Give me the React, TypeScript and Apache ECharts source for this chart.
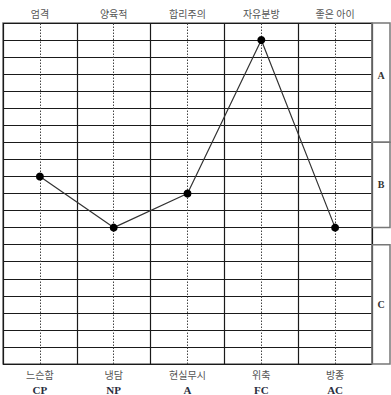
import React, { useEffect, useRef } from "react";
import * as echarts from "echarts";

const topLabels = ["엄격", "양육적", "합리주의", "자유분방", "좋은 아이"];
const bottomLabels = ["느슨함", "냉담", "현실무시", "위축", "방종"];
const codes = ["CP", "NP", "A", "FC", "AC"];
const values = [11, 8, 10, 19, 8];
const zones = [
  { name: "A", from: 13, to: 20 },
  { name: "B", from: 8, to: 13 },
  { name: "C", from: 0, to: 7 },
];

export default function App() {
  const ref = useRef<HTMLDivElement>(null);
  useEffect(() => {
    document.body.style.margin = "0";
    const chart = echarts.init(ref.current!, null, { renderer: "svg" });
    const ko = "'Noto Sans CJK KR', sans-serif";
    chart.setOption({
      animation: false,
      backgroundColor: "#fff",
      grid: [
        { left: 3, top: 23, width: 369, height: 341, show: true, borderColor: "#777", borderWidth: 1.5 },
        { left: 372, top: 23, width: 18, height: 341, show: false },
      ],
      xAxis: [
        {
          type: "category",
          gridIndex: 0,
          position: "bottom",
          data: bottomLabels,
          boundaryGap: true,
          axisLine: { show: false },
          axisTick: { show: false },
          splitLine: { show: true, interval: 0, lineStyle: { color: "#1a1a1a", width: 1.2 } },
          axisLabel: {
            interval: 0,
            margin: 3,
            formatter: (v: string, i: number) => `{ko|${v}}\n{en|${codes[i]}}`,
            rich: {
              ko: { fontFamily: ko, fontSize: 10, color: "#555", lineHeight: 15 },
              en: { fontFamily: "'Liberation Serif', 'DejaVu Serif', serif", fontSize: 11, fontWeight: "bold", color: "#2a2d40", lineHeight: 15 },
            },
          },
        },
        {
          type: "category",
          gridIndex: 0,
          position: "top",
          data: topLabels,
          boundaryGap: true,
          axisLine: { show: false },
          axisTick: { show: false },
          splitLine: { show: false },
          axisLabel: { interval: 0, margin: 5, fontFamily: ko, fontSize: 10, color: "#555" },
        },
        { type: "value", gridIndex: 1, min: 0, max: 1, show: false },
      ],
      yAxis: [
        {
          type: "value",
          gridIndex: 0,
          min: 0,
          max: 20,
          interval: 1,
          axisLine: { show: false },
          axisTick: { show: false },
          axisLabel: { show: false },
          splitLine: { show: true, lineStyle: { color: "#1a1a1a", width: 1 } },
        },
        { type: "value", gridIndex: 1, min: 0, max: 20, show: false },
      ],
      series: [
        {
          type: "line",
          xAxisIndex: 0,
          yAxisIndex: 0,
          data: values,
          symbol: "circle",
          symbolSize: 8,
          lineStyle: { color: "#333", width: 1.2 },
          itemStyle: { color: "#000" },
          z: 5,
          markLine: {
            silent: true,
            symbol: ["none", "none"],
            label: { show: false },
            lineStyle: { color: "#444", width: 1, type: [1.5, 1.5] },
            data: bottomLabels.map((b) => ({ xAxis: b })),
            z: 2,
          },
        },
        {
          type: "line",
          xAxisIndex: 2,
          yAxisIndex: 1,
          data: [],
          silent: true,
          markArea: {
            silent: true,
            itemStyle: { color: "rgba(0,0,0,0)", borderColor: "#777", borderWidth: 1.5 },
            label: {
              show: true,
              position: "inside",
              fontFamily: "'Liberation Serif', 'DejaVu Serif', serif",
              fontSize: 10,
              fontWeight: "bold",
              color: "#333",
            },
            data: zones.map((z) => [
              { yAxis: z.to, name: z.name, label: z.name === "A" ? { offset: [0, -7] } : undefined },
              { yAxis: z.from },
            ]),
          },
        },
      ],
    });
    return () => chart.dispose();
  }, []);
  return <div ref={ref} style={{ width: 391, height: 395 }} />;
}
